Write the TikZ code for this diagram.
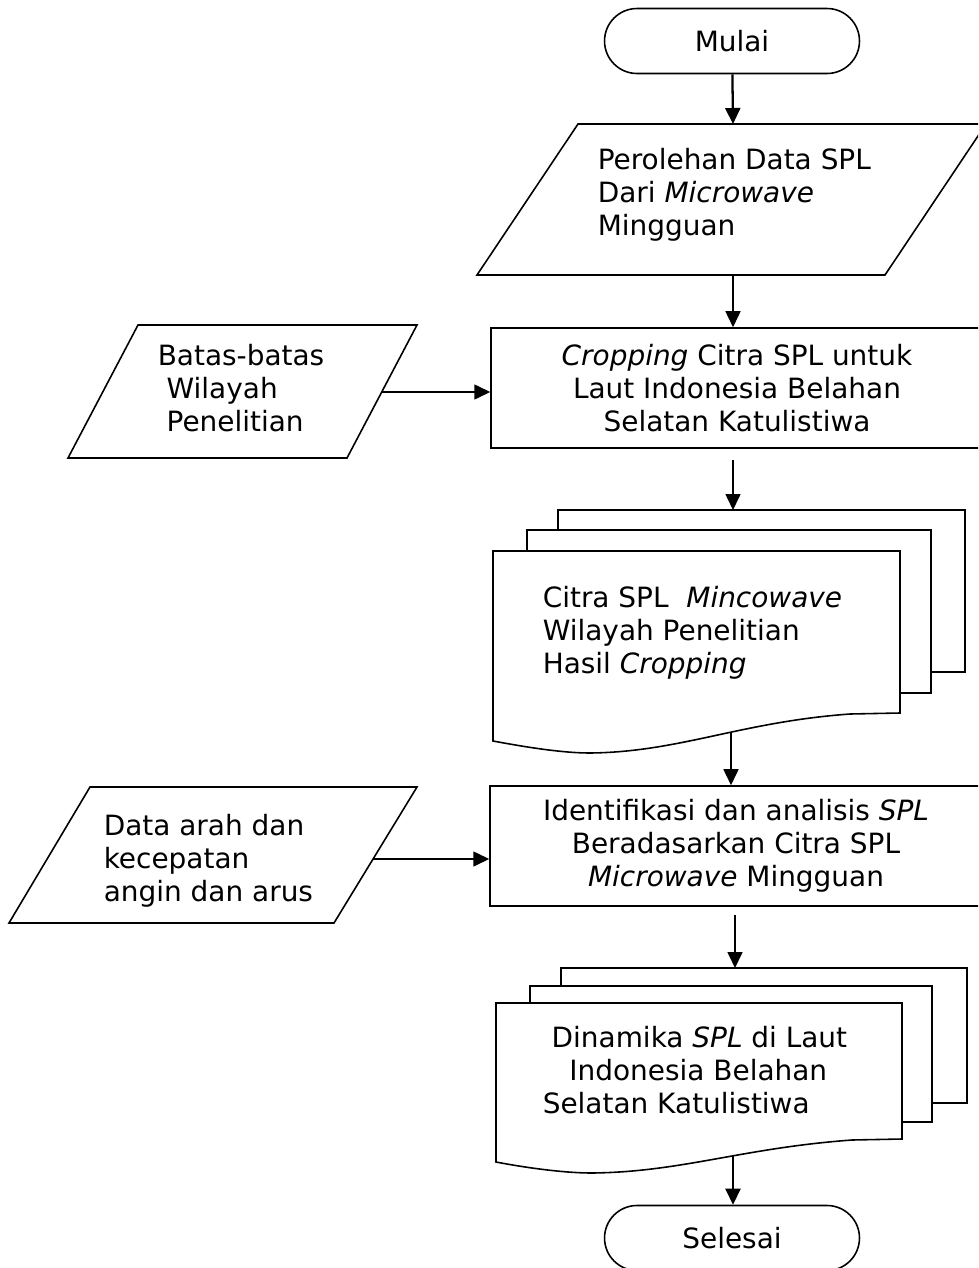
\documentclass[tikz,border=0pt]{standalone}
\usepackage{fontspec}
\setmainfont{DejaVu Sans}
\usetikzlibrary{calc, arrows.meta}

\begin{document}
\begin{tikzpicture}[x=0.02cm, y=-0.02cm, >={Triangle[length=0.32cm, width=0.3cm]},
	line width=0.9pt,
	txt/.style={font=\fontsize{15.9}{18.8}\selectfont, inner sep=0pt},
	proses/.style={txt, draw, minimum width=9.84cm, minimum height=2.4cm, align=center},
	terminal/.style={txt, draw, rounded corners=0.65cm, minimum width=5.1cm, minimum height=1.3cm}]
	
	% Page (pixel units, y downwards)
	\fill[white] (0,0) rectangle (978,1268);
	\useasboundingbox (0,0) rectangle (978,1268);
	\clip (0,0) rectangle (978,1268);
	
	% Start
	\node[terminal] (mulai) at (732,41) {Mulai};
	
	% Input: Perolehan Data
	\coordinate (pa) at (477,275);		% lower left
	\coordinate (pb) at (885,275);		% lower right
	\coordinate (pc) at (986,124);		% upper right
	\coordinate (pd) at (578,124);		% upper left
	\draw (pa) -- (pb) -- (pc) -- (pd) -- cycle;
	\node[txt, anchor=west, align=left] (perolehan) at (597,195)
		{Perolehan Data SPL\\Dari \textit{Microwave}\\Mingguan};
	\coordinate (pin) at (733,124);
	\coordinate (pout) at (733,275);
	
	% Process: Cropping
	\node[proses] (crop) at (737,388)
		{\textit{Cropping} Citra SPL untuk\\Laut Indonesia Belahan\\Selatan Katulistiwa};
	
	% Input: Batas-batas
	\coordinate (ba) at (68,458);
	\coordinate (bb) at (347,458);
	\coordinate (bc) at (417,325);
	\coordinate (bd) at (138,325);
	\draw (ba) -- (bb) -- (bc) -- (bd) -- cycle;
	\node[txt, anchor=west, align=left] (batas) at (157,388)
		{Batas-batas\\\ Wilayah\\\ Penelitian};
	\coordinate (bout) at (382,392);
	
	% Document stack: Citra SPL
	\draw (558,530) -- (558,510) -- (965,510) -- (965,672) -- (931,672);	% back
	\draw (527,551) -- (527,530) -- (931,530) -- (931,693) -- (900,693);	% middle
	\draw[fill=white] (493,551) -- (900,551) -- (900,713) -- (850,714)
		.. controls (740,722) and (680,752) .. (590,753)
		.. controls (560,753) and (520,746) .. (493,741) -- cycle;	% front
	\node[txt, anchor=west, align=left] (citra) at (542,633)
		{Citra SPL\ \ \textit{Mincowave}\\Wilayah Penelitian\\Hasil \textit{Cropping}};
	\coordinate (cgap) at (733,460);
	\coordinate (ctop) at (733,510);
	\coordinate (cout) at (731,733);
	
	% Process: Identifikasi
	\node[proses] (ident) at (736,846)
		{Identifikasi dan analisis \textit{SPL}\\Beradasarkan Citra SPL\\\textit{Microwave} Mingguan};
	
	% Input: Data arah
	\coordinate (da) at (9,923);
	\coordinate (db) at (334,923);
	\coordinate (dc) at (417,787);
	\coordinate (dd) at (90,787);
	\draw (da) -- (db) -- (dc) -- (dd) -- cycle;
	\node[txt, anchor=west, align=left] (data) at (103,861)
		{Data arah dan\\kecepatan\\angin dan arus};
	\coordinate (dout) at (373,859);
	
	% Document stack: Dinamika
	\draw (561,986) -- (561,968) -- (967,968) -- (967,1103) -- (932,1103);	% back
	\draw (530,1003) -- (530,986) -- (932,986) -- (932,1122) -- (902,1122);	% middle
	\draw[fill=white] (496,1003) -- (902,1003) -- (902,1139) -- (852,1140)
		.. controls (742,1148) and (682,1172) .. (592,1173)
		.. controls (562,1173) and (522,1167) .. (496,1162) -- cycle;	% front
	\node[txt, anchor=west, align=left] (dinamika) at (542,1070)
		{\ Dinamika \textit{SPL} di Laut\\\ \ \ Indonesia Belahan\\Selatan Katulistiwa};
	\coordinate (igap) at (735,915);
	\coordinate (dtop) at (735,968);
	\coordinate (dinout) at (733,1156);
	
	% End
	\node[terminal] (selesai) at (732,1238) {Selesai};
	
	% Arrows
	\draw[->, line width=1.3pt] (mulai) -- (pin);
	\draw[->] (pout) -- (pout |- crop.north);
	\draw[->] (bout) -- (bout -| crop.west);
	\draw[->] (cgap) -- (ctop);
	\draw[->] (cout) -- (cout |- ident.north);
	\draw[->] (dout) -- (dout -| ident.west);
	\draw[->] (igap) -- (dtop);
	\draw[->, line width=1.3pt] (dinout) -- (dinout |- selesai.north);
	
\end{tikzpicture}
\end{document}
